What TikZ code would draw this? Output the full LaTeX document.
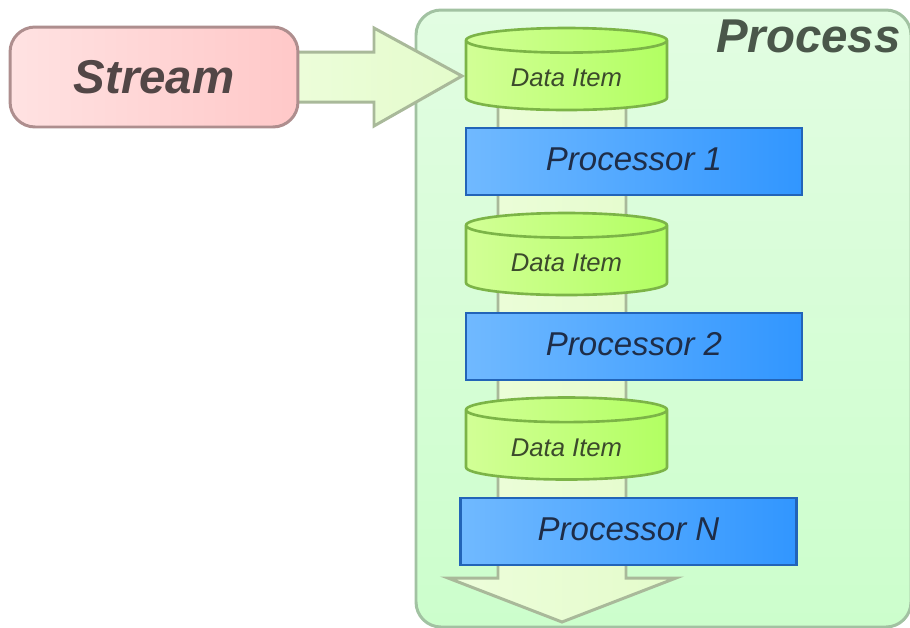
\documentclass[tikz,border=0pt]{standalone}
\usepackage{fontspec}
\setmainfont{Liberation Sans}
\usetikzlibrary{shapes.geometric}
\definecolor{streamL}{HTML}{FFE2E2}
\definecolor{streamR}{HTML}{FFC8C8}
\definecolor{streamB}{HTML}{AE8E8E}
\definecolor{streamT}{HTML}{524646}
\definecolor{flowL}{HTML}{EDFDDB}
\definecolor{flowR}{HTML}{E4FCCB}
\definecolor{flowB}{HTML}{A9B99A}
\definecolor{procL}{HTML}{E2FDE2}
\definecolor{procR}{HTML}{CCFECC}
\definecolor{procB}{HTML}{A2C2A2}
\definecolor{procT}{HTML}{4A574A}
\definecolor{dataL}{HTML}{D2FF96}
\definecolor{dataR}{HTML}{B2FF62}
\definecolor{dataB}{HTML}{7CB447}
\definecolor{dataT}{HTML}{3C4A2C}
\definecolor{cpuL}{HTML}{70B9FF}
\definecolor{cpuR}{HTML}{3196FF}
\definecolor{cpuB}{HTML}{2264B8}
\definecolor{cpuT}{HTML}{1E2D48}
\tikzset{
  flowarrow/.style={draw=flowB,line width=1.7pt,left color=flowL,right color=flowR,line join=miter},
  streambox/.style={rectangle,rounded corners=0.5cm,draw=streamB,line width=1.7pt,
    left color=streamL,right color=streamR,minimum width=5.76cm,minimum height=2cm,
    text=streamT,font=\fontsize{27}{32}\selectfont\bfseries\itshape},
  dataitem/.style={cylinder,shape border rotate=90,aspect=0.2,draw=dataB,line width=1.5pt,
    left color=dataL,right color=dataR,minimum width=4.02cm,minimum height=1.64cm,
    anchor=shape center,text=dataT,font=\fontsize{14.6}{17}\selectfont\itshape},
  cpubox/.style={rectangle,draw=cpuB,line width=1.6pt,left color=cpuL,right color=cpuR,
    minimum width=6.72cm,minimum height=1.34cm,text=cpuT,font=\fontsize{18.8}{22}\selectfont\itshape},
}
\begin{document}
\begin{tikzpicture}[x=0.02cm,y=-0.02cm]
\useasboundingbox (0,0) rectangle (910,627);
\coordinate (S) at (154,77);
\coordinate (D1) at (566.5,69);
\coordinate (D2) at (566.5,254);
\coordinate (D3) at (566.5,438.5);
\coordinate (C1) at (634,161.5);
\coordinate (C2) at (634,346.5);
\coordinate (CN) at (628.5,531.5);
% process container
\draw[draw=procB,line width=1.7pt,top color=procL,bottom color=procR,rounded corners=0.5cm]
  (416,10) rectangle (911,627);
\node[anchor=north east,text=procT,font=\fontsize{27}{32}\selectfont\bfseries\itshape,inner sep=0pt]
  (proc) at (901,20) {Process};
% big arrows
\draw[flowarrow] (498,90)--(498,578)--(448,578)--(562,622)--(676,578)--(626,578)--(626,90)--cycle;
\draw[flowarrow] (280,52)--(374,52)--(374,28)--(462,76)--(374,126)--(374,102)--(280,102)--cycle;
% stream
\node[streambox] (stream) at (S) {Stream};
% data items
\node[dataitem] (data1) at (D1) {Data Item};
\node[dataitem] (data2) at (D2) {Data Item};
\node[dataitem] (data3) at (D3) {Data Item};
% processors
\node[cpubox] (cpu1) at (C1) {\raisebox{3pt}{Processor 1}};
\node[cpubox] (cpu2) at (C2) {\raisebox{3pt}{Processor 2}};
\node[cpubox] (cpuN) at (CN) {\raisebox{3pt}{Processor N}};
\end{tikzpicture}
\end{document}
